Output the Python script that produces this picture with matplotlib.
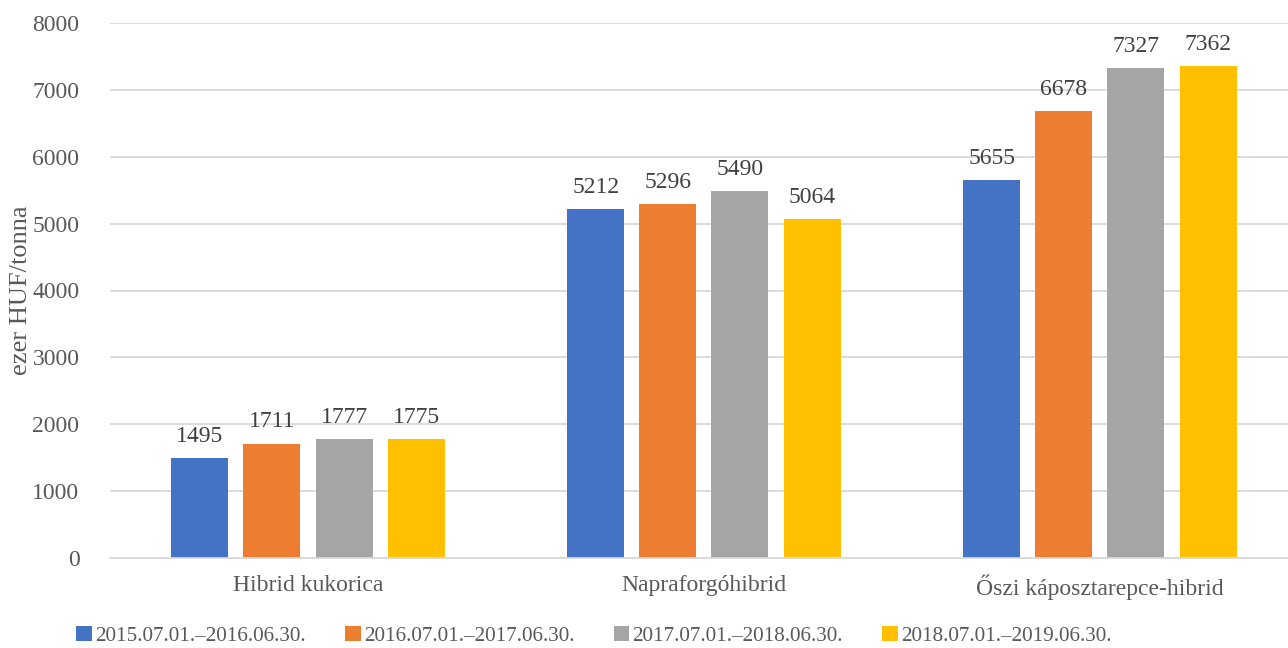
import matplotlib.pyplot as plt
import numpy as np

plt.rcParams['font.family'] = ['Liberation Serif', 'DejaVu Serif']

categories = ["Hibrid kukorica", "Napraforgóhibrid", "Őszi káposztarepce-hibrid"]
periods = ["2015.07.01.–2016.06.30.", "2016.07.01.–2017.06.30.",
           "2017.07.01.–2018.06.30.", "2018.07.01.–2019.06.30."]
v2015 = [1495, 5212, 5655]
v2016 = [1711, 5296, 6678]
v2017 = [1777, 5490, 7327]
v2018 = [1775, 5064, 7362]
series = [v2015, v2016, v2017, v2018]
colors = ["#4472C4", "#ED7D31", "#A5A5A5", "#FFC000"]

text_col = "#595959"
fig = plt.figure(figsize=(12.88, 6.48), dpi=100)
ax = fig.add_axes([110 / 1288, 90 / 648, 1178 / 1288, 535 / 648])

x = np.arange(len(categories))
width = 0.144
step = 0.182
for i, (vals, col, lab) in enumerate(zip(series, colors, periods)):
    pos = x + (i - 1.5) * step
    bars = ax.bar(pos, vals, width, color=col, label=lab, zorder=2)
    for b, v in zip(bars, vals):
        ax.annotate(str(v), (b.get_x() + b.get_width() / 2, v), xytext=(0, 8),
                    textcoords="offset points", ha="center", va="bottom",
                    fontsize=17, color="#404040")

ax.set_xlim(-0.5, 2.475)
ax.set_ylim(0, 8000)
ax.set_yticks(range(0, 8001, 1000))
ax.yaxis.grid(True, color="#D9D9D9", linewidth=1.3, zorder=0)
ax.set_axisbelow(True)
for s in ["top", "right", "left"]:
    ax.spines[s].set_visible(False)
ax.spines["bottom"].set_color("#D9D9D9")
ax.spines["bottom"].set_linewidth(1.3)
ax.tick_params(axis="both", length=0, labelsize=17, labelcolor=text_col)
ax.tick_params(axis="y", pad=22)
ax.tick_params(axis="x", pad=12)
ax.set_xticks(x)
ax.set_xticklabels(categories)
ax.set_ylabel("ezer HUF/tonna", fontsize=19, color=text_col, labelpad=0)

fig.legend(loc="center", bbox_to_anchor=(594 / 1288, 12 / 648), ncol=4, frameon=False,
           fontsize=15.2, labelcolor=text_col, handlelength=0.75, handleheight=0.75,
           handletextpad=0.15, columnspacing=1.85)

fig.savefig("out.png", dpi=100)
